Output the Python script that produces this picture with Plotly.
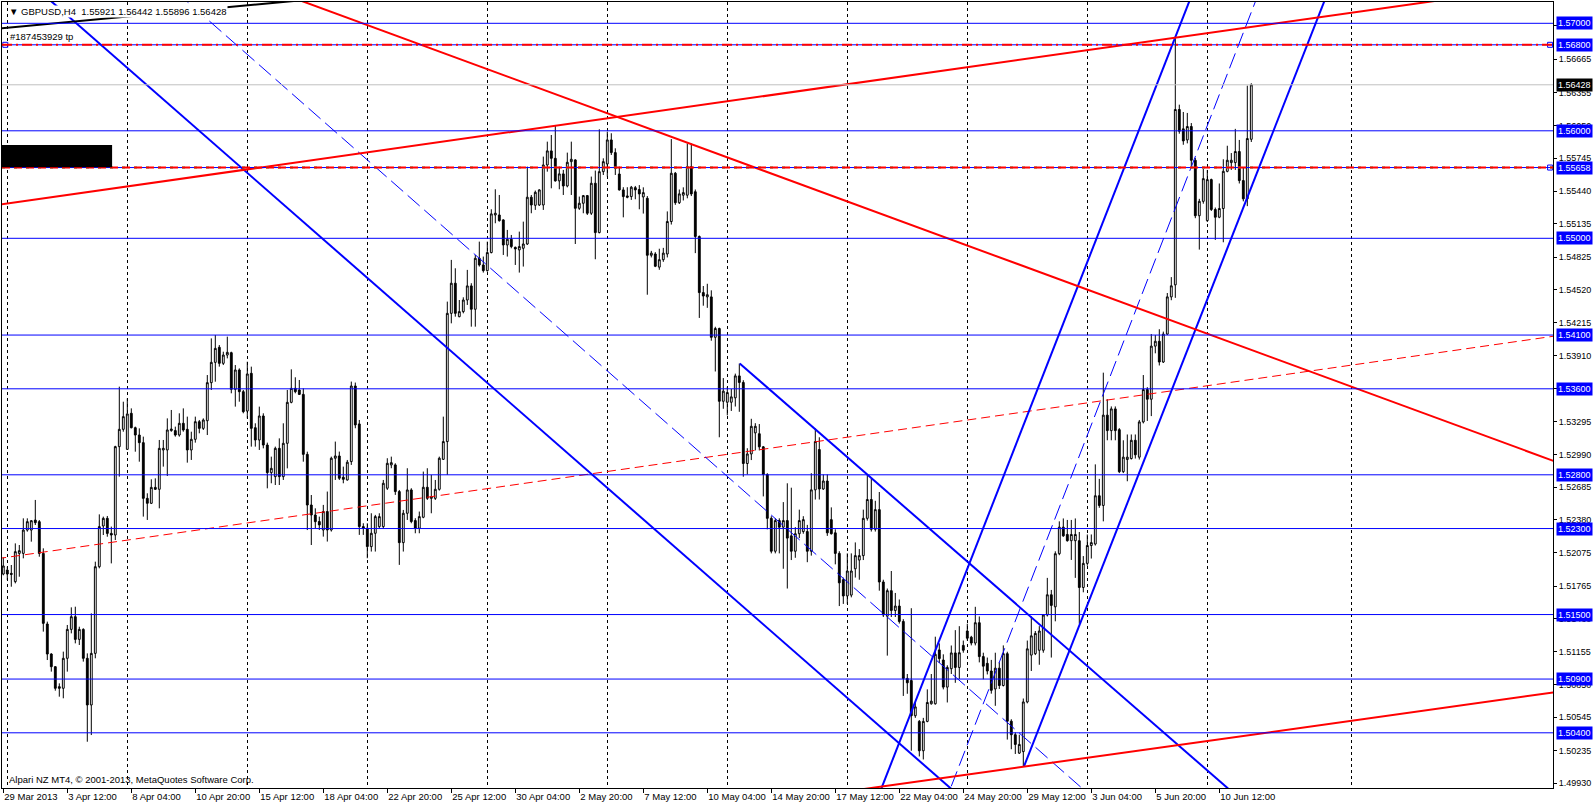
import plotly.graph_objects as go

# ---------------- data (GBPUSD H4, bar index 0 = 29 Mar 2013 20:00) ----------------
bar_open = [
1.51877,1.51914,1.51883,1.51806,1.52069,1.52069,1.52286,1.52286,1.52379,1.52364,
1.52069,1.51412,1.51133,1.51015,1.50829,1.50814,1.51093,1.51362,1.51480,1.51269,
1.51362,1.51093,1.50659,1.51139,1.51945,1.52324,1.52395,1.52255,1.52240,1.53062,
1.53223,1.53037,1.53372,1.53238,1.53170,1.53099,1.52581,1.52535,1.52683,1.52665,
1.53031,1.53031,1.53211,1.53211,1.53170,1.53279,1.53223,1.53031,1.53130,1.53294,
1.53232,1.53303,1.53657,1.53846,1.53986,1.53837,1.53914,1.53936,1.53595,1.53775,
1.53573,1.53393,1.53744,1.53238,1.53124,1.53347,1.53077,1.52820,1.52783,1.53046,
1.52783,1.53093,1.53474,1.53604,1.53589,1.53548,1.52990,1.52519,1.52426,1.52365,
1.52287,1.52458,1.52287,1.52954,1.52975,1.52777,1.52752,1.52923,1.53626,1.53273,
1.52318,1.52303,1.52132,1.52256,1.52318,1.52318,1.52675,1.52892,1.52892,1.52644,
1.52169,1.52442,1.52659,1.52374,1.52303,1.52405,1.52684,1.52581,1.52581,1.52665,
1.52944,1.53109,1.54302,1.54582,1.54271,1.54318,1.54426,1.54557,1.54340,1.54814,
1.54752,1.54699,1.54867,1.55217,1.55217,1.55171,1.54938,1.54991,1.54916,1.54892,
1.54907,1.54947,1.55382,1.55307,1.55310,1.55310,1.55682,1.55813,1.55744,1.55534,
1.55599,1.55487,1.55713,1.55729,1.55279,1.55326,1.55397,1.55233,1.55512,1.55053,
1.55620,1.55691,1.55915,1.55797,1.55598,1.55450,1.55394,1.55388,1.55471,1.55454,
1.55385,1.55372,1.54842,1.54854,1.54732,1.54801,1.54854,1.55156,1.55605,1.55331,
1.55401,1.55401,1.55666,1.55433,1.55017,1.54495,1.54455,1.54455,1.54079,1.54161,
1.53484,1.53475,1.53475,1.53516,1.53720,1.53659,1.52905,1.52994,1.53190,1.53182,
1.53060,1.52803,1.52395,1.52089,1.52374,1.52313,1.52374,1.52232,1.52089,1.52252,
1.52272,1.52272,1.52089,1.52660,1.53035,1.52668,1.52742,1.52383,1.52260,1.52069,
1.51824,1.51673,1.51681,1.51926,1.52007,1.52048,1.52395,1.52570,1.52293,1.52476,
1.51803,1.51485,1.51722,1.51538,1.51579,1.51436,1.50906,1.50886,1.50559,1.50506,
1.50233,1.50506,1.50670,1.50670,1.51171,1.51077,1.50825,1.50996,1.51143,1.51008,
1.51213,1.51347,1.51289,1.51235,1.51424,1.51109,1.51046,1.50975,1.50808,1.51001,
1.50840,1.51136,1.50508,1.50382,1.50211,1.50225,1.50687,1.51123,1.51136,1.51168,
1.51168,1.51496,1.51684,1.51572,1.52066,1.52313,1.52245,1.52187,1.52187,1.52187,
1.51752,1.51976,1.52142,1.52156,1.52605,1.52515,1.53355,1.53211,1.53413,1.53220,
1.52829,1.52942,1.52951,1.53121,1.52964,1.53292,1.53593,1.53503,1.53997,1.54042,
1.53849,1.54109,1.54455,1.54567,1.56198,1.56018,1.55915,1.56040,1.55726,1.55210,
1.55344,1.55165,1.55546,1.55268,1.55196,1.55277,1.55623,1.55704,1.55704,1.55807,
1.55537,1.55367,1.55921]
bar_high = [
1.52032,1.51945,1.51961,1.52162,1.52147,1.52395,1.52395,1.52379,1.52566,1.52379,
1.52116,1.51434,1.51140,1.51020,1.50860,1.51155,1.51403,1.51567,1.51573,1.51387,
1.51372,1.51139,1.51511,1.51992,1.52432,1.52411,1.52417,1.52318,1.53070,1.53620,
1.53480,1.53511,1.53418,1.53248,1.53232,1.53155,1.52628,1.52758,1.52767,1.53124,
1.53124,1.53325,1.53403,1.53248,1.53372,1.53418,1.53341,1.53201,1.53341,1.53310,
1.53325,1.53728,1.54069,1.54100,1.54007,1.53945,1.54085,1.53945,1.53821,1.53790,
1.53589,1.53852,1.53806,1.53279,1.53434,1.53372,1.53099,1.52969,1.53062,1.53139,
1.53279,1.53589,1.53781,1.53707,1.53682,1.53604,1.53015,1.52612,1.52488,1.52411,
1.52520,1.52644,1.52969,1.53109,1.53016,1.52876,1.52938,1.53667,1.53658,1.53310,
1.52349,1.52349,1.52442,1.52427,1.52442,1.52752,1.52954,1.52969,1.52907,1.52659,
1.52473,1.52861,1.52675,1.52396,1.52458,1.52830,1.52861,1.52799,1.52752,1.52969,
1.53341,1.54411,1.54799,1.54721,1.54426,1.54451,1.54706,1.54582,1.54845,1.54969,
1.54830,1.54969,1.55270,1.55456,1.55403,1.55177,1.55078,1.55031,1.54923,1.55062,
1.55155,1.55667,1.55403,1.55444,1.55456,1.55760,1.55899,1.55961,1.56054,1.55667,
1.55636,1.55797,1.55899,1.55735,1.55388,1.55403,1.55403,1.55574,1.55630,1.56014,
1.55744,1.55992,1.55977,1.55837,1.55667,1.55475,1.55475,1.55487,1.55487,1.55495,
1.55474,1.55393,1.54883,1.54871,1.54903,1.54911,1.55250,1.55923,1.55617,1.55454,
1.55474,1.55882,1.55882,1.55454,1.55026,1.54556,1.54577,1.54516,1.54177,1.54169,
1.53700,1.53618,1.53598,1.53741,1.53835,1.53680,1.53047,1.53321,1.53280,1.53272,
1.53068,1.52815,1.52415,1.52395,1.52395,1.52546,1.52721,1.52680,1.52313,1.52476,
1.52415,1.52334,1.52815,1.53231,1.53149,1.52803,1.52803,1.52497,1.52293,1.52089,
1.51844,1.52069,1.52069,1.52171,1.52109,1.52476,1.52803,1.52762,1.52558,1.52640,
1.51824,1.51742,1.51905,1.51701,1.51640,1.51457,1.50947,1.51559,1.50682,1.50519,
1.50539,1.50804,1.50947,1.51294,1.51232,1.51130,1.51028,1.51212,1.51355,1.51392,
1.51258,1.51415,1.51302,1.51572,1.51482,1.51145,1.51100,1.51078,1.51145,1.51055,
1.51213,1.51154,1.50526,1.50404,1.50382,1.50719,1.51258,1.51482,1.51347,1.51392,
1.51505,1.51841,1.51729,1.52088,1.52367,1.52394,1.52380,1.52380,1.52394,1.52268,
1.52044,1.52245,1.52245,1.52897,1.52762,1.53750,1.53503,1.53436,1.53436,1.53234,
1.53121,1.53175,1.53175,1.53175,1.53310,1.53728,1.53615,1.54109,1.54100,1.54154,
1.54132,1.54491,1.54639,1.56871,1.56243,1.56175,1.56166,1.56072,1.55748,1.55367,
1.55645,1.55636,1.55555,1.55286,1.55510,1.55735,1.55861,1.55793,1.56018,1.55915,
1.55659,1.56420,1.56442]
bar_low = [
1.51865,1.51821,1.51759,1.51790,1.51852,1.52023,1.52271,1.52178,1.52333,1.52038,
1.51341,1.51077,1.50969,1.50792,1.50736,1.50721,1.50969,1.51325,1.51232,1.51217,
1.51062,1.50317,1.50379,1.51093,1.51930,1.52240,1.52224,1.51976,1.52193,1.52783,
1.53201,1.53031,1.53232,1.53015,1.52922,1.52411,1.52380,1.52528,1.52659,1.52488,
1.52876,1.52789,1.53201,1.53155,1.53155,1.53201,1.52913,1.52938,1.53099,1.53186,
1.53217,1.53170,1.53589,1.53666,1.53806,1.53821,1.53883,1.53558,1.53434,1.53480,
1.53372,1.53325,1.53062,1.53062,1.53031,1.53046,1.52674,1.52721,1.52705,1.52705,
1.52752,1.52860,1.53465,1.53558,1.53542,1.52922,1.52286,1.52147,1.52302,1.52287,
1.52225,1.52179,1.52272,1.52752,1.52752,1.52721,1.52746,1.52892,1.53233,1.52241,
1.52241,1.52024,1.52086,1.52086,1.52303,1.52303,1.52659,1.52861,1.52613,1.51962,
1.52086,1.52380,1.52349,1.52256,1.52256,1.52396,1.52566,1.52442,1.52566,1.52653,
1.52938,1.52799,1.54209,1.54271,1.54265,1.54302,1.54380,1.54178,1.54178,1.54737,
1.54681,1.54690,1.54860,1.55140,1.55155,1.54845,1.54830,1.54907,1.54752,1.54681,
1.54737,1.54938,1.55233,1.55264,1.55301,1.55264,1.55620,1.55465,1.55527,1.55456,
1.55403,1.55474,1.55403,1.54947,1.55264,1.55233,1.55217,1.55217,1.54805,1.55046,
1.55589,1.55574,1.55775,1.55589,1.55444,1.55195,1.55372,1.55357,1.55363,1.55270,
1.55230,1.54475,1.54822,1.54732,1.54707,1.54781,1.54822,1.55128,1.55311,1.55319,
1.55352,1.55372,1.55393,1.54862,1.54259,1.54373,1.54353,1.54047,1.53761,1.53149,
1.53414,1.53353,1.53394,1.53435,1.53386,1.52782,1.52803,1.52937,1.53027,1.53027,
1.52599,1.52293,1.52069,1.52069,1.52069,1.51926,1.51742,1.52007,1.52028,1.52211,
1.52252,1.51987,1.52048,1.52570,1.52570,1.52660,1.52232,1.52244,1.51967,1.51579,
1.51599,1.51599,1.51660,1.51844,1.51824,1.52007,1.52374,1.52272,1.52272,1.51722,
1.51477,1.51118,1.51477,1.51477,1.51416,1.50743,1.50763,1.50233,1.50539,1.50180,
1.50152,1.50498,1.50662,1.50662,1.51049,1.50804,1.50682,1.50947,1.50865,1.50900,
1.51145,1.51258,1.51213,1.51213,1.51055,1.50898,1.50943,1.50764,1.50651,1.50808,
1.50831,1.50337,1.50247,1.50203,1.50203,1.50090,1.50674,1.50975,1.51123,1.51033,
1.51145,1.51482,1.51100,1.51437,1.52052,1.52223,1.52178,1.52008,1.51841,1.51415,
1.51707,1.51954,1.52021,1.52142,1.52493,1.52367,1.53121,1.53121,1.53121,1.52816,
1.52816,1.52740,1.52942,1.52951,1.52942,1.53278,1.53301,1.53346,1.53930,1.53817,
1.53840,1.54100,1.54424,1.54446,1.55973,1.55870,1.55883,1.55672,1.55187,1.54895,
1.55322,1.55151,1.55254,1.54985,1.55187,1.54963,1.55614,1.55636,1.55636,1.55510,
1.55344,1.55299,1.55896]
bar_close = [
1.51952,1.51877,1.51874,1.52085,1.52094,1.52286,1.52364,1.52373,1.52355,1.52069,
1.51418,1.51133,1.51015,1.50814,1.50814,1.51093,1.51362,1.51480,1.51269,1.51362,
1.51093,1.50659,1.51139,1.51945,1.52318,1.52395,1.52255,1.52240,1.53062,1.53223,
1.53341,1.53366,1.53238,1.53170,1.53099,1.52581,1.52535,1.52683,1.52665,1.53046,
1.53046,1.53217,1.53226,1.53170,1.53279,1.53217,1.53031,1.53130,1.53294,1.53232,
1.53310,1.53657,1.53846,1.53976,1.53837,1.53914,1.53939,1.53595,1.53775,1.53573,
1.53387,1.53738,1.53232,1.53124,1.53347,1.53077,1.52820,1.52860,1.53046,1.52783,
1.53093,1.53474,1.53604,1.53573,1.53548,1.52990,1.52519,1.52426,1.52364,1.52334,
1.52458,1.52287,1.52954,1.52975,1.52768,1.52758,1.52917,1.53626,1.53264,1.52318,
1.52303,1.52132,1.52256,1.52411,1.52411,1.52721,1.52907,1.52913,1.52644,1.52169,
1.52442,1.52659,1.52365,1.52303,1.52411,1.52684,1.52581,1.52597,1.52665,1.52954,
1.53109,1.54302,1.54582,1.54302,1.54318,1.54426,1.54557,1.54340,1.54814,1.54752,
1.54699,1.54867,1.55227,1.55233,1.55164,1.54938,1.54991,1.54923,1.54901,1.54923,
1.54947,1.55382,1.55310,1.55428,1.55450,1.55682,1.55813,1.55744,1.55534,1.55599,
1.55487,1.55707,1.55735,1.55279,1.55326,1.55397,1.55233,1.55512,1.55053,1.55620,
1.55713,1.55915,1.55797,1.55651,1.55450,1.55388,1.55382,1.55475,1.55450,1.55413,
1.55425,1.54842,1.54862,1.54740,1.54801,1.54862,1.55156,1.55605,1.55331,1.55413,
1.55425,1.55666,1.55413,1.55017,1.54495,1.54463,1.54475,1.54079,1.54161,1.53484,
1.53578,1.53565,1.53525,1.53720,1.53659,1.52905,1.52994,1.53251,1.53251,1.53060,
1.52803,1.52395,1.52089,1.52374,1.52313,1.52374,1.52211,1.52089,1.52252,1.52374,
1.52383,1.52089,1.52660,1.53109,1.52668,1.52742,1.52260,1.52252,1.52069,1.51795,
1.51673,1.51905,1.51905,1.52048,1.52048,1.52395,1.52570,1.52293,1.52476,1.51803,
1.51497,1.51722,1.51538,1.51579,1.51436,1.50906,1.50865,1.50559,1.50641,1.50233,
1.50506,1.50682,1.50694,1.51130,1.51090,1.50825,1.51008,1.51143,1.51008,1.51145,
1.51168,1.51280,1.51235,1.51424,1.51109,1.51020,1.50975,1.50795,1.51001,1.50840,
1.51136,1.50508,1.50382,1.50292,1.50292,1.50687,1.51181,1.51302,1.51325,1.51347,
1.51496,1.51684,1.51585,1.52066,1.52313,1.52232,1.52187,1.52245,1.52245,1.51752,
1.51976,1.52142,1.52169,1.52605,1.52515,1.53355,1.53211,1.53413,1.53211,1.52829,
1.52964,1.52964,1.53121,1.52986,1.53292,1.53593,1.53503,1.53997,1.54042,1.53849,
1.54109,1.54455,1.54558,1.56198,1.55996,1.55906,1.56040,1.55726,1.55210,1.55344,
1.55555,1.55546,1.55268,1.55196,1.55277,1.55623,1.55726,1.55726,1.55807,1.55537,
1.55367,1.55928,1.56428]

# time-axis labels (bar index -> label), week-start grid bars
label_bars = [0, 16, 32, 48, 64, 80, 96, 112, 128, 144, 160, 176, 192, 208, 224, 240, 256, 272, 288, 304]
label_text = ["29 Mar 2013", "3 Apr 12:00", "8 Apr 04:00", "10 Apr 20:00", "15 Apr 12:00", "18 Apr 04:00",
              "22 Apr 20:00", "25 Apr 12:00", "30 Apr 04:00", "2 May 20:00", "7 May 12:00", "10 May 04:00",
              "14 May 20:00", "17 May 12:00", "22 May 04:00", "24 May 20:00", "29 May 12:00", "3 Jun 04:00",
              "5 Jun 20:00", "10 Jun 12:00"]
grid_bars = [1, 31, 61, 91, 121, 151, 181, 211, 241, 271, 301, 337]

# price scale ticks
price_ticks = [1.49930, 1.50235, 1.50545, 1.50850, 1.51155, 1.51460, 1.51765, 1.52075, 1.52380, 1.52685,
               1.52990, 1.53295, 1.53600, 1.53910, 1.54215, 1.54520, 1.54825, 1.55135, 1.55440, 1.55745,
               1.56050, 1.56355, 1.56665, 1.56975]

# horizontal levels
blue_levels = [1.57000, 1.56800, 1.56000, 1.55658, 1.55000, 1.54100, 1.53600, 1.52800, 1.52300, 1.51500, 1.50900, 1.50400]
tp_level = 1.56800
order_level = 1.55658
bid_level = 1.56428
info_block_bars = [-1, 27.2]
info_block_prices = [1.55662, 1.55868]

# trend lines: (bar indices, prices)
red_up_x, red_up_y = [-5, 400], [1.55293, 1.57430]
red_down_x, red_down_y = [60, 400], [1.57407, 1.52759]
red_dash_x, red_dash_y = [-5, 400], [1.52001, 1.54155]
red_low_x, red_low_y = [200, 400], [1.49798, 1.50840]
black_x, black_y = [-5, 80], [1.56938, 1.57233]
dn_main_x, dn_main_y = [5, 250], [1.57432, 1.49455]
dn_mid_x, dn_mid_y = [35, 280], [1.57561, 1.49547]
dn_upper_x, dn_upper_y = [184.1, 320], [1.53835, 1.49435]
up_left_x, up_left_y = [215, 300], [1.49453, 1.57537]
up_mid_x, up_mid_y = [235, 315], [1.49712, 1.57392]
up_right_x, up_right_y = [255.2, 335], [1.50090, 1.57655]

# --------------------------------------------------------------------------------
FONT = "Liberation Sans"
BLUE = "#0000FF"
RED = "#FF0000"
X_RANGE = [-0.325, 387.425]
Y_RANGE = [1.498865, 1.571981]

fig = go.Figure()
bars = list(range(len(bar_close)))
fig.add_trace(go.Candlestick(
    x=bars, open=bar_open, high=bar_high, low=bar_low, close=bar_close,
    increasing=dict(line=dict(color="black", width=1), fillcolor="white"),
    decreasing=dict(line=dict(color="black", width=1), fillcolor="black"),
    whiskerwidth=0, showlegend=False, hoverinfo="skip"))

def add_line(xs, ys, color, width, dash="solid"):
    fig.add_trace(go.Scatter(x=xs, y=ys, mode="lines",
                             line=dict(color=color, width=width, dash=dash),
                             showlegend=False, hoverinfo="skip"))

add_line(red_dash_x, red_dash_y, RED, 1, "9px,5px")
add_line(dn_mid_x, dn_mid_y, BLUE, 1, "16px,6px")
add_line(up_mid_x, up_mid_y, BLUE, 1, "16px,6px")
add_line(dn_main_x, dn_main_y, BLUE, 2)
add_line(dn_upper_x, dn_upper_y, BLUE, 2)
add_line(up_left_x, up_left_y, BLUE, 2)
add_line(up_right_x, up_right_y, BLUE, 2)
add_line(red_up_x, red_up_y, RED, 2)
add_line(red_down_x, red_down_y, RED, 2)
add_line(red_low_x, red_low_y, RED, 2)
add_line(black_x, black_y, "black", 2)

# dummy trace to register the grid axis
fig.add_trace(go.Scatter(x=grid_bars, y=[None] * len(grid_bars), xaxis="x2", yaxis="y",
                         mode="markers", showlegend=False, hoverinfo="skip"))

shapes = []
shapes.append(dict(type="line", xref="paper", x0=0, x1=1, yref="y", y0=bid_level, y1=bid_level,
                   line=dict(color="#C0C0C0", width=1), layer="above"))
for lv in blue_levels:
    shapes.append(dict(type="line", xref="paper", x0=0, x1=1, yref="y", y0=lv, y1=lv,
                       line=dict(color=BLUE, width=1), layer="above"))
shapes.append(dict(type="line", xref="paper", x0=0, x1=1, yref="y", y0=tp_level, y1=tp_level,
                   line=dict(color=RED, width=2, dash="10px,4px,2px,4px"), layer="above"))
shapes.append(dict(type="line", xref="paper", x0=0, x1=1, yref="y", y0=order_level, y1=order_level,
                   line=dict(color="#22B14C", width=2, dash="3px,9px"), layer="above"))
shapes.append(dict(type="line", xref="paper", x0=0, x1=1, yref="y", y0=order_level, y1=order_level,
                   line=dict(color=RED, width=2, dash="8px,4px"), layer="above"))
# black info block on the left
shapes.append(dict(type="rect", xref="x", yref="y", x0=info_block_bars[0], x1=info_block_bars[1],
                   y0=info_block_prices[0], y1=info_block_prices[1],
                   fillcolor="black", line=dict(width=0), layer="above"))

# order markers
fig.add_trace(go.Scatter(x=[0.5, 386.7, 386.7], y=[tp_level, tp_level, order_level], mode="markers",
                         marker=dict(symbol="square-open", size=5, color=BLUE, line=dict(width=1)),
                         showlegend=False, hoverinfo="skip", cliponaxis=False))

LBL = 9
annotations = []
for lv in blue_levels:
    annotations.append(dict(xref="paper", x=1, xanchor="left", xshift=3, yref="y", y=lv, yanchor="middle",
                            text=f"{lv:.5f}", showarrow=False, bgcolor=BLUE, borderpad=1,
                            font=dict(family=FONT, size=LBL, color="white")))
annotations.append(dict(xref="paper", x=1, xanchor="left", xshift=3, yref="y", y=bid_level, yanchor="middle",
                        text=f"{bid_level:.5f}", showarrow=False, bgcolor="black", borderpad=1,
                        font=dict(family=FONT, size=LBL, color="white")))
annotations.append(dict(xref="paper", x=0, xanchor="left", xshift=6, yref="paper", y=1, yanchor="top", yshift=-3,
                        text="▼ GBPUSD,H4  1.55921 1.56442 1.55896 1.56428", showarrow=False,
                        bgcolor="white", borderpad=0, font=dict(family=FONT, size=9.5, color="black")))
annotations.append(dict(xref="paper", x=0, xanchor="left", xshift=6, yref="y", y=tp_level, yanchor="bottom",
                        yshift=1, text="#187453929 tp", showarrow=False,
                        font=dict(family=FONT, size=9.5, color="black")))
annotations.append(dict(xref="paper", x=0, xanchor="left", xshift=5, yref="paper", y=0, yanchor="bottom",
                        yshift=1, text="Alpari NZ MT4, © 2001-2013, MetaQuotes Software Corp.", showarrow=False,
                        font=dict(family=FONT, size=9.5, color="black")))

fig.update_layout(
    width=1596, height=806,
    margin=dict(l=2, r=43, t=2, b=18, autoexpand=False),
    paper_bgcolor="white", plot_bgcolor="white",
    font=dict(family=FONT, size=10, color="black"),
    showlegend=False,
    boxgap=0.35,
    shapes=shapes, annotations=annotations,
    xaxis=dict(range=X_RANGE, tickmode="array", tickvals=label_bars, ticktext=label_text,
               ticks="outside", ticklen=4, tickcolor="black", ticklabelposition="outside right",
               tickangle=0, automargin=False,
               showgrid=False, zeroline=False, showline=True, linecolor="black", linewidth=1, mirror=True,
               rangeslider=dict(visible=False), fixedrange=True,
               tickfont=dict(family=FONT, size=9.5, color="black")),
    xaxis2=dict(matches="x", overlaying="x", tickmode="array", tickvals=grid_bars, showticklabels=False,
                ticks="", showgrid=True, gridcolor="black", gridwidth=1, griddash="3px,3px",
                zeroline=False, showline=False, automargin=False),
    yaxis=dict(range=Y_RANGE, side="right", tickmode="array", tickvals=price_ticks,
               ticktext=[f"{t:.5f}" for t in price_ticks], ticks="outside", ticklen=3, tickcolor="black",
               automargin=False,
               showgrid=False, zeroline=False, showline=True, linecolor="black", linewidth=1, mirror=True,
               fixedrange=True, tickfont=dict(family=FONT, size=LBL, color="black")),
)

fig.write_html("out.html", config={"displayModeBar": False},
               post_script="document.body.style.margin='0px';document.body.style.overflow='hidden';")
